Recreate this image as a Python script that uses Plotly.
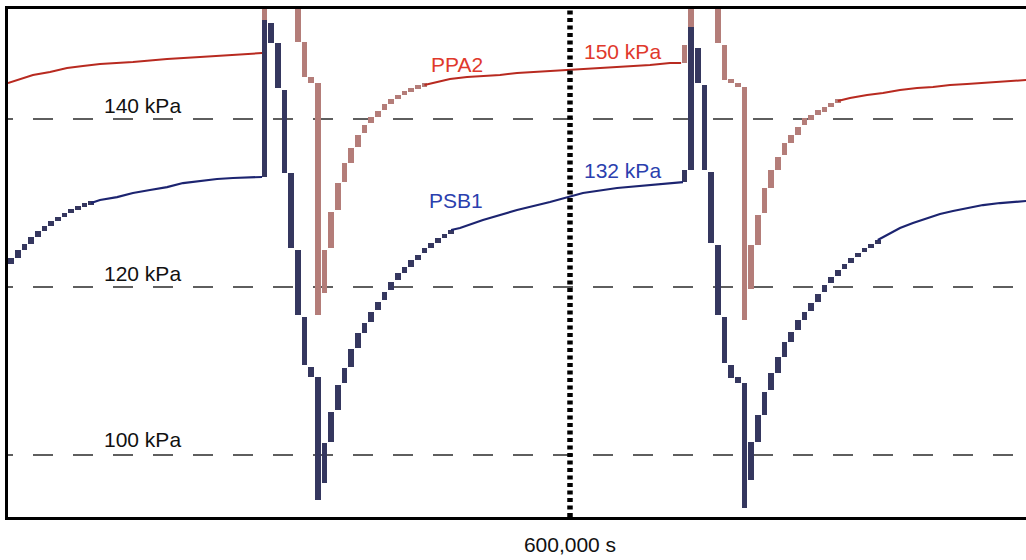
import plotly.graph_objects as go

# ---------------- data (time in s, pressure in kPa) ----------------
# PSB1 : per-interval min / max (stepped part of the record)
psb1_bin_t = [-3600, 3600, 10800, 18000, 25200, 32400, 39600, 46800, 54000, 61200, 68400, 75600, 82800,
              270000, 277200, 284400, 291600, 298800, 306000, 313200, 320400, 327600, 334800,
              342000, 349200, 356400, 363600, 370800, 378000, 385200, 392400, 399600, 406800,
              414000, 421200, 428400, 435600, 442800, 450000, 457200, 464400, 471600,
              723600, 730800, 738000, 745200, 752400, 759600, 766800, 774000, 781200, 788400,
              795600, 802800, 810000, 817200, 824400, 831600, 838800, 846000, 853200, 860400,
              867600, 874800, 882000, 889200, 896400, 903600, 910800, 918000, 925200, 932400]
psb1_bin_lo = [122.70, 123.45, 124.40, 125.12, 125.95, 126.67, 127.26, 127.86, 128.33, 128.81, 129.17, 129.52, 129.76,
               133.10, 149.05, 143.69, 133.57, 124.64, 116.67, 110.71, 109.29, 94.64, 96.67,
               101.55, 105.36, 108.57, 110.48, 112.74, 114.52, 115.83, 117.26, 118.45, 119.64,
               120.83, 121.67, 122.38, 123.21, 124.05, 124.64, 125.24, 125.83, 126.31,
               132.50, 133.93, 144.29, 133.93, 125.24, 116.67, 110.95, 109.17, 108.57, 93.69,
               97.02, 101.55, 104.76, 107.74, 109.76, 111.67, 113.45, 114.88, 116.07, 117.14,
               118.21, 119.40, 120.48, 121.31, 122.14, 122.86, 123.57, 124.17, 124.64, 125.12]
psb1_bin_hi = [123.45, 124.40, 125.12, 125.95, 126.67, 127.26, 127.86, 128.33, 128.81, 129.17, 129.52, 129.76, 130.00,
               151.79, 151.43, 149.05, 143.45, 133.57, 124.40, 116.43, 110.48, 109.29, 101.43,
               105.12, 108.33, 110.36, 112.62, 114.52, 115.71, 117.02, 118.21, 119.40, 120.60,
               121.67, 122.38, 123.21, 123.81, 124.64, 125.24, 125.83, 126.31, 126.79,
               133.93, 150.95, 148.45, 144.05, 133.69, 125.00, 116.43, 110.71, 109.29, 108.57,
               101.55, 104.76, 107.50, 109.76, 111.67, 113.45, 114.64, 116.07, 117.02, 118.10,
               119.17, 120.24, 121.19, 122.02, 122.74, 123.45, 124.05, 124.64, 125.12, 125.60]
# PSB1 : smooth part of the record
psb1_line_t = [82800, 92400, 110800, 128000, 146400, 164800, 182000, 200400, 218800, 236000, 254400, 267400, None,
               471600, 481200, 506000, 542800, 578400, 597800, 614000, 650800, 686400, 722000, None,
               932400, 945600, 956400, 970400, 985600, 999600, 1013600, 1028800, 1046000, 1064400, 1092500]
psb1_line_p = [130.00, 130.36, 130.71, 131.19, 131.55, 131.90, 132.38, 132.62, 132.86, 132.98, 133.10, 133.10, None,
               126.79, 127.02, 127.98, 129.17, 130.12, 130.71, 131.19, 131.79, 132.14, 132.50, None,
               125.60, 126.43, 127.02, 127.62, 128.21, 128.69, 129.05, 129.40, 129.76, 130.00, 130.24]

# PPA2 : per-interval min / max
ppa2_bin_t = [270000, 277200, 284400, 291600, 298800, 306000, 313200, 320400, 327600, 334800,
              342000, 349200, 356400, 363600, 370800, 378000, 385200, 392400, 399600, 406800,
              414000, 421200, 428400, 435600, 442800,
              723600, 730800, 738000, 745200, 752400, 759600, 766800, 774000, 781200, 788400,
              795600, 802800, 810000, 817200, 824400, 831600, 838800, 846000, 853200, 860400,
              867600, 874800, 882000, 889200]
ppa2_bin_lo = [147.86, 155.00, 155.50, 155.00, 154.00, 149.17, 145.00, 144.29, 116.67, 119.29,
               124.64, 129.17, 132.50, 134.76, 136.67, 138.33, 139.52, 140.24, 141.07, 141.79,
               142.38, 142.86, 143.21, 143.57, 143.81,
               146.67, 146.67, 155.00, 155.00, 154.50, 149.05, 144.64, 144.29, 143.81, 116.07,
               119.81, 125.00, 128.81, 131.79, 133.93, 135.71, 137.14, 138.10, 139.29, 139.88,
               140.48, 140.83, 141.43, 141.90]
ppa2_bin_hi = [158.00, 158.50, 158.50, 158.00, 157.00, 154.50, 149.17, 145.00, 144.29, 124.40,
               128.93, 132.38, 134.76, 136.55, 138.10, 139.29, 140.24, 140.95, 141.79, 142.38,
               142.86, 143.21, 143.57, 143.81, 144.05,
               148.81, 158.00, 158.50, 158.50, 158.00, 154.50, 148.81, 144.64, 144.29, 143.81,
               125.00, 128.57, 131.79, 133.93, 135.48, 137.14, 138.10, 139.05, 140.12, 140.48,
               141.07, 141.43, 141.90, 142.14]
ppa2_line_t = [-7000, 2800, 20000, 38400, 56800, 74000, 92400, 128000, 164800, 200400, 236000, 267400, None,
               442800, 452000, 470400, 488800, 506000, 524400, 542800, 560000, 578400, 597800, 614000,
               650800, 686400, 708000, 720000, None,
               889200, 902400, 920800, 938000, 956400, 974800, 992000, 1010400, 1028800, 1046000, 1064400, 1092500]
ppa2_line_p = [144.29, 144.64, 145.24, 145.60, 146.07, 146.31, 146.55, 146.79, 147.14, 147.38, 147.62, 147.86, None,
               144.05, 144.29, 144.76, 145.00, 145.12, 145.24, 145.48, 145.60, 145.66, 145.83, 145.95,
               146.19, 146.43, 146.67, 146.67, None,
               142.14, 142.50, 142.86, 143.10, 143.45, 143.69, 143.81, 144.05, 144.17, 144.29, 144.40, 144.64]

ref_levels = [140, 120, 100]
ref_labels = ["140 kPa", "120 kPa", "100 kPa"]
marker_time = 600000
marker_label = "600,000 s"

# ---------------- styling ----------------
FONT = "Liberation Sans Narrow, Arial Narrow, Liberation Sans, Arial, sans-serif"
BLUE_BAR = "#35375f"
BLUE_LINE = "#1c2470"
RED_BAR = "#b47d79"
RED_LINE = "#b82a20"
MIN_H = 0.45   # minimal drawn thickness of an interval bar (kPa)
BAR_W = 6300   # drawn width of an interval bar (s)


def bar_heights(lo, hi):
    return [max(h - l, MIN_H) for l, h in zip(lo, hi)]


fig = go.Figure()

# PPA2 (drawn first, below PSB1)
fig.add_trace(go.Scatter(x=ppa2_line_t, y=ppa2_line_p, mode="lines",
                         line=dict(color=RED_LINE, width=2), connectgaps=False,
                         hoverinfo="skip"))
fig.add_trace(go.Bar(x=ppa2_bin_t, y=bar_heights(ppa2_bin_lo, ppa2_bin_hi), base=ppa2_bin_lo,
                     width=BAR_W, marker=dict(color=RED_BAR, line=dict(width=0))))

# PSB1
fig.add_trace(go.Scatter(x=psb1_line_t, y=psb1_line_p, mode="lines",
                         line=dict(color=BLUE_LINE, width=2.2), connectgaps=False,
                         hoverinfo="skip"))
fig.add_trace(go.Bar(x=psb1_bin_t, y=bar_heights(psb1_bin_lo, psb1_bin_hi), base=psb1_bin_lo,
                     width=BAR_W, marker=dict(color=BLUE_BAR, line=dict(width=0))))

# dashed reference levels
for lv in ref_levels:
    fig.add_shape(type="line", xref="x", yref="y", x0=-23160, x1=1200000, y0=lv, y1=lv,
                  line=dict(color="#2a2a2a", width=1.6, dash="20px,20px"), layer="below")

# dotted time marker
fig.add_shape(type="line", xref="x", yref="paper", x0=marker_time, x1=marker_time, y0=0, y1=1,
              line=dict(color="black", width=5.5, dash="4px,3.5px"), layer="above")

annotations = []
label_y = [141.67, 121.67, 101.79]
for txt, yy in zip(ref_labels, label_y):
    annotations.append(dict(x=138000, y=yy, text=txt, showarrow=False, xanchor="center",
                            yanchor="middle", font=dict(family=FONT, size=21, color="#111111")))
annotations += [
    dict(x=477960, y=146.55, text="PPA2", showarrow=False, font=dict(family=FONT, size=21, color="#e0392c")),
    dict(x=656160, y=148.10, text="150 kPa", showarrow=False, font=dict(family=FONT, size=21, color="#e0392c")),
    dict(x=656160, y=133.93, text="132 kPa", showarrow=False, font=dict(family=FONT, size=21, color="#2b3fae")),
    dict(x=476880, y=130.36, text="PSB1", showarrow=False, font=dict(family=FONT, size=21, color="#2b3fae")),
]

fig.update_layout(
    width=1026, height=560,
    margin=dict(l=8, r=0, t=9, b=43),
    paper_bgcolor="white", plot_bgcolor="white",
    barmode="overlay", bargap=0, showlegend=False,
    annotations=annotations,
)
fig.update_xaxes(range=[-6960, 1092480], showgrid=False, zeroline=False,
                 showline=True, linecolor="black", linewidth=3, mirror=True,
                 tickvals=[marker_time], ticktext=[marker_label], ticks="",
                 tickfont=dict(family=FONT, size=21, color="#111111"),
                 ticklabelstandoff=7)
fig.update_yaxes(range=[92.62, 153.10], showgrid=False, zeroline=False,
                 showline=True, linecolor="black", linewidth=3, mirror=False,
                 showticklabels=False, ticks="")

fig.write_html("out.html")
